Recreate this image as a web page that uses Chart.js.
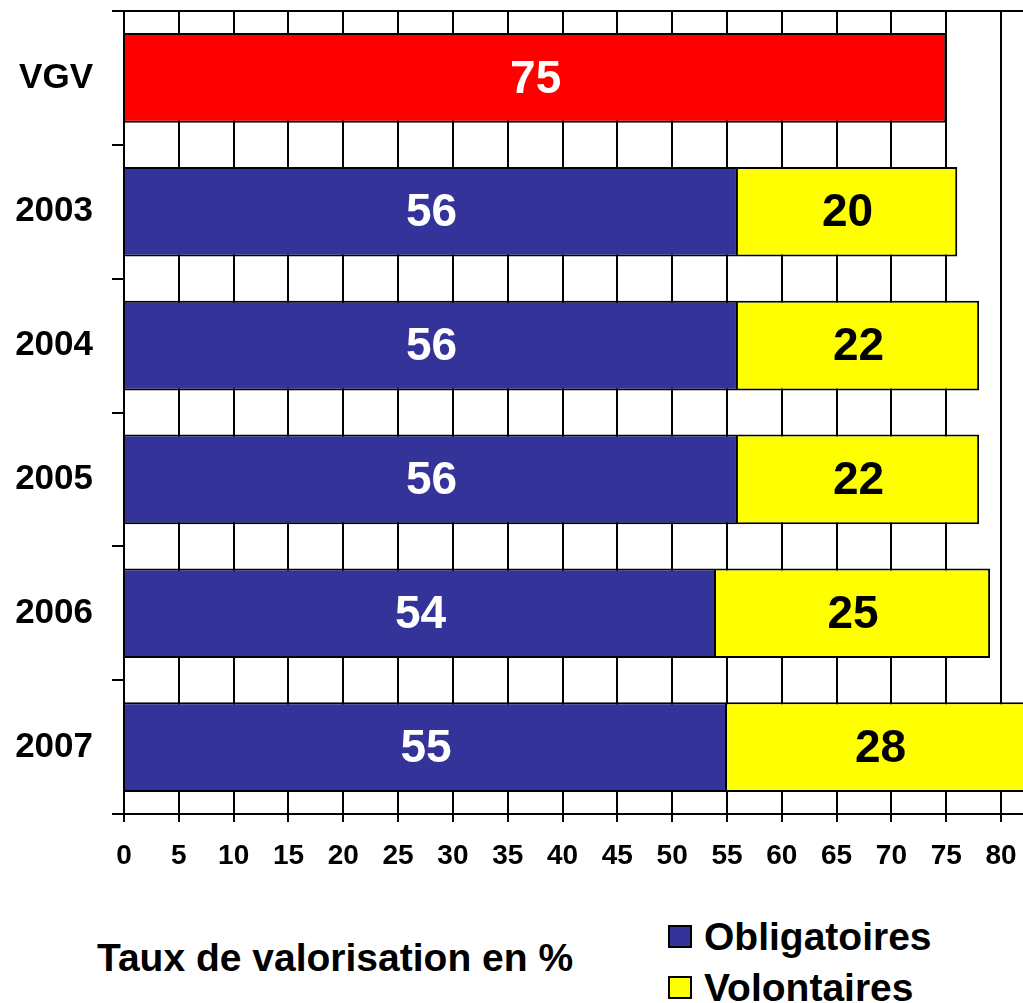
<!DOCTYPE html>
<html>
<head>
<meta charset="utf-8">
<script src="https://cdn.jsdelivr.net/npm/chart.js@4"></script>
<style>
  body { margin: 0; background: #fff; overflow: hidden; font-family: "Liberation Sans", Arial, sans-serif; }
  #wrap { position: relative; width: 1023px; height: 1003px; }
  #chart { position: absolute; left: 0; top: 0; }
  #axis-title { position: absolute; left: 97px; top: 938px; font-size: 39px; font-weight: bold; line-height: 1; white-space: nowrap; }
  #legend { position: absolute; left: 668px; top: 911px; font-size: 39px; font-weight: bold; }
  .item { display: flex; align-items: center; height: 51px; white-space: nowrap; }
  .box { width: 24px; height: 23px; border: 2px solid #000; box-sizing: border-box; margin-right: 12px; }
</style>
</head>
<body>
<div id="wrap">
  <canvas id="chart" width="1023" height="880"></canvas>
  <div id="axis-title">Taux de valorisation en %</div>
  <div id="legend"></div>
</div>
<script>
const categories = ["VGV", "2003", "2004", "2005", "2006", "2007"];
const vgvValues = [75, null, null, null, null, null];
const obligatoires = [null, 56, 56, 56, 54, 55];
const volontaires = [null, 20, 22, 22, 25, 28];
const xTicks = [0, 5, 10, 15, 20, 25, 30, 35, 40, 45, 50, 55, 60, 65, 70, 75, 80];

const FONT = '"Liberation Sans", Arial, sans-serif';

// value written in the middle of each bar segment
const barLabels = {
    id: 'barLabels',
    afterDatasetsDraw(chart) {
        const ctx = chart.ctx;
        ctx.save();
        ctx.font = 'bold 46px ' + FONT;
        ctx.textAlign = 'center';
        ctx.textBaseline = 'middle';
        chart.data.datasets.forEach((ds, i) => {
            chart.getDatasetMeta(i).data.forEach((bar, j) => {
                const v = ds.data[j];
                if (v === null || v === undefined) return;
                ctx.fillStyle = ds.labelColor;
                ctx.fillText(v, (bar.x + bar.base) / 2, bar.y + 2);
            });
        });
        ctx.restore();
    }
};

const ctx = document.getElementById("chart").getContext("2d");
const chart = new Chart(ctx, {
    type: 'bar',
    data: {
        labels: categories,
        datasets: [{
            label: 'VGV',
            data: vgvValues,
            backgroundColor: '#ff0000',
            borderColor: '#000',
            borderWidth: 2,
            labelColor: '#fff',
            inLegend: false
        }, {
            label: 'Obligatoires',
            data: obligatoires,
            backgroundColor: '#333399',
            borderColor: '#000',
            borderWidth: 2,
            labelColor: '#fff',
            inLegend: true
        }, {
            label: 'Volontaires',
            data: volontaires,
            backgroundColor: '#ffff00',
            borderColor: '#000',
            borderWidth: 2,
            labelColor: '#000',
            inLegend: true
        }]
    },
    options: {
        indexAxis: 'y',
        responsive: false,
        animation: false,
        categoryPercentage: 0.67,
        barPercentage: 1,
        layout: { padding: { top: 11, left: 0, right: 0, bottom: 0 } },
        plugins: {
            legend: { display: false },
            tooltip: { enabled: false }
        },
        scales: {
            x: {
                stacked: true,
                min: 0,
                max: 82,
                afterBuildTicks: (scale) => { scale.ticks = xTicks.map(v => ({ value: v })); },
                afterFit: (scale) => {
                    scale.height = 66;
                    scale.paddingLeft = 0;
                    scale.paddingRight = 0;
                },
                grid: { color: '#000', lineWidth: 2, tickLength: 8, tickColor: '#000' },
                border: { color: '#000', width: 2 },
                ticks: {
                    color: '#000',
                    padding: 17,
                    maxRotation: 0,
                    autoSkip: false,
                    font: { family: FONT, size: 28, weight: 'bold' }
                }
            },
            y: {
                stacked: true,
                afterFit: (scale) => {
                    scale.width = 124;
                    scale.paddingTop = 0;
                    scale.paddingBottom = 0;
                },
                grid: {
                    offset: true,
                    lineWidth: 2,
                    tickLength: 12,
                    tickColor: '#000',
                    color: (c) => (c.index === 0 || c.index === undefined) ? '#000' : 'rgba(0,0,0,0)'
                },
                border: { color: '#000', width: 2 },
                ticks: {
                    color: '#000',
                    padding: 19,
                    font: { family: FONT, size: 35, weight: 'bold' }
                }
            }
        }
    },
    plugins: [barLabels]
});

// legend built from the chart's datasets
const legendEl = document.getElementById("legend");
chart.data.datasets.filter(d => d.inLegend).forEach(d => {
    const item = document.createElement("div");
    item.className = "item";
    const box = document.createElement("span");
    box.className = "box";
    box.style.background = d.backgroundColor;
    item.appendChild(box);
    item.appendChild(document.createTextNode(d.label));
    legendEl.appendChild(item);
});
</script>
</body>
</html>
